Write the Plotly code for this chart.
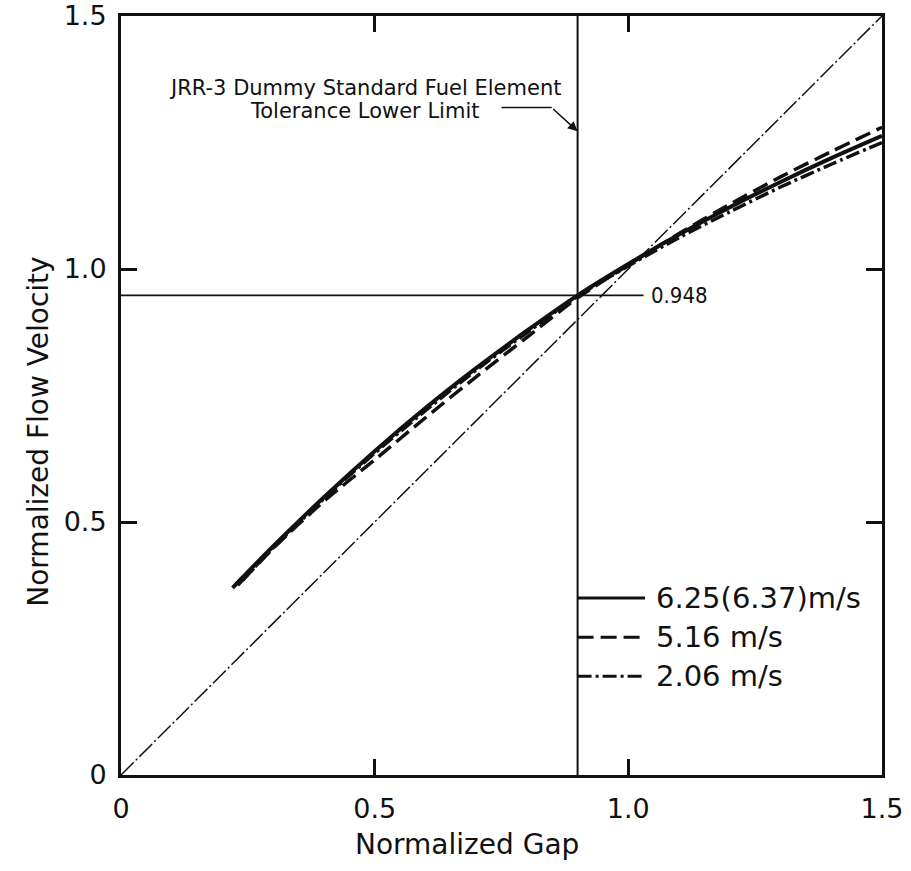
import plotly.graph_objects as go

# Measured curves: normalized flow velocity vs normalized gap
gap_625 = [0.22, 0.30, 0.40, 0.50, 0.60, 0.70, 0.80, 0.90, 1.00, 1.10, 1.20, 1.30, 1.40, 1.50]
vel_625 = [0.37, 0.452, 0.549, 0.640, 0.725, 0.804, 0.878, 0.948, 1.010, 1.068, 1.122, 1.172, 1.219, 1.263]

gap_516 = [0.24, 0.30, 0.40, 0.50, 0.60, 0.70, 0.80, 0.90, 1.00, 1.10, 1.20, 1.30, 1.40, 1.50]
vel_516 = [0.385, 0.448, 0.541, 0.623, 0.706, 0.787, 0.865, 0.943, 1.008, 1.070, 1.128, 1.182, 1.232, 1.280]

gap_206 = [0.23, 0.30, 0.40, 0.50, 0.60, 0.70, 0.80, 0.90, 1.00, 1.10, 1.20, 1.30, 1.40, 1.50]
vel_206 = [0.375, 0.449, 0.546, 0.636, 0.720, 0.800, 0.874, 0.946, 1.006, 1.062, 1.113, 1.162, 1.207, 1.250]

series_labels = ["6.25(6.37)m/s", "5.16 m/s", "2.06 m/s"]
series_dash = ["solid", "16px,7px", "14px,4px,3px,4px"]
series_width = [4, 3.5, 3.5]
legend_y = [0.35, 0.272, 0.195]

limit_gap = 0.9
limit_vel = 0.948

x_ticks = [0, 0.5, 1.0, 1.5]
x_tick_text = ["0", "0.5", "1.0", "1.5"]
y_ticks = [0, 0.5, 1.0, 1.5]
y_tick_text = ["0", "0.5", "1.0", "1.5"]

FONT = "DejaVu Sans"
BLACK = "#111111"

fig = go.Figure()

# Identity line (flow velocity proportional to gap)
fig.add_trace(go.Scatter(x=[0, 1.5], y=[0, 1.5], mode="lines",
                         line=dict(color=BLACK, width=1.5, dash="18px,3px,2px,3px"),
                         hoverinfo="skip"))

# Tolerance lower limit and reference velocity
fig.add_trace(go.Scatter(x=[limit_gap, limit_gap], y=[0, 1.5], mode="lines",
                         line=dict(color=BLACK, width=2), hoverinfo="skip"))
fig.add_trace(go.Scatter(x=[0, 1.03], y=[limit_vel, limit_vel], mode="lines",
                         line=dict(color=BLACK, width=1.8), hoverinfo="skip"))

gaps = [gap_625, gap_516, gap_206]
vels = [vel_625, vel_516, vel_206]
for g, v, lab, d, w, ly in zip(gaps, vels, series_labels, series_dash, series_width, legend_y):
    fig.add_trace(go.Scatter(x=g, y=v, mode="lines", name=lab,
                             line=dict(color=BLACK, width=w, dash=d, shape="spline",
                                       smoothing=0.8)))
    # key sample beside the label
    fig.add_trace(go.Scatter(x=[limit_gap, 1.033], y=[ly, ly], mode="lines",
                             line=dict(color=BLACK, width=3, dash=d), hoverinfo="skip"))
    fig.add_annotation(x=1.05, y=ly, xref="x", yref="y", text=lab, showarrow=False,
                       xanchor="left", yanchor="middle",
                       font=dict(family=FONT, size=29, color=BLACK))

# Value label for the reference velocity
fig.add_annotation(x=1.04, y=limit_vel, xref="x", yref="y", text="0.948", showarrow=False,
                   xanchor="left", yanchor="middle",
                   font=dict(family="DejaVu Sans Condensed, DejaVu Sans", size=22, color=BLACK))

# Callout for the tolerance limit
fig.add_annotation(x=0.481, y=1.357, xref="x", yref="y",
                   text="JRR-3 Dummy Standard Fuel Element", showarrow=False,
                   xanchor="center", yanchor="middle",
                   font=dict(family=FONT, size=21, color=BLACK))
fig.add_annotation(x=0.479, y=1.313, xref="x", yref="y",
                   text="Tolerance Lower Limit", showarrow=False,
                   xanchor="center", yanchor="middle",
                   font=dict(family=FONT, size=21, color=BLACK))
fig.add_trace(go.Scatter(x=[0.75, 0.849], y=[1.319, 1.319], mode="lines",
                         line=dict(color=BLACK, width=1.5), hoverinfo="skip"))
fig.add_annotation(x=limit_gap, y=1.272, ax=0.849, ay=1.319, xref="x", yref="y",
                   axref="x", ayref="y", text="", showarrow=True,
                   arrowhead=2, arrowsize=1.3, arrowwidth=1.5, arrowcolor=BLACK)

# Axis titles
fig.add_annotation(x=0.455, y=-0.092, xref="paper", yref="paper", text="Normalized Gap",
                   showarrow=False, xanchor="center", yanchor="middle",
                   font=dict(family=FONT, size=28, color=BLACK))
fig.add_annotation(x=-0.108, y=0.452, xref="paper", yref="paper",
                   text="Normalized Flow Velocity", textangle=-90,
                   showarrow=False, xanchor="center", yanchor="middle",
                   font=dict(family=FONT, size=28, color=BLACK))

axis_common = dict(showline=True, linewidth=3, linecolor=BLACK, mirror="ticks",
                   ticks="inside", ticklen=16, tickwidth=3, tickcolor=BLACK,
                   showgrid=False, zeroline=False, automargin=False,
                   tickfont=dict(family=FONT, size=27, color=BLACK))

fig.update_xaxes(range=[0, 1.5], tickvals=x_ticks, ticktext=x_tick_text,
                 ticklabelstandoff=8, **axis_common)
fig.update_yaxes(range=[0, 1.5], tickvals=y_ticks, ticktext=y_tick_text,
                 ticklabelstandoff=6, **axis_common)

fig.update_layout(width=911, height=871, showlegend=False,
                  margin=dict(l=121, r=29, t=16, b=96),
                  plot_bgcolor="white", paper_bgcolor="white")

fig.write_html("out.html")
